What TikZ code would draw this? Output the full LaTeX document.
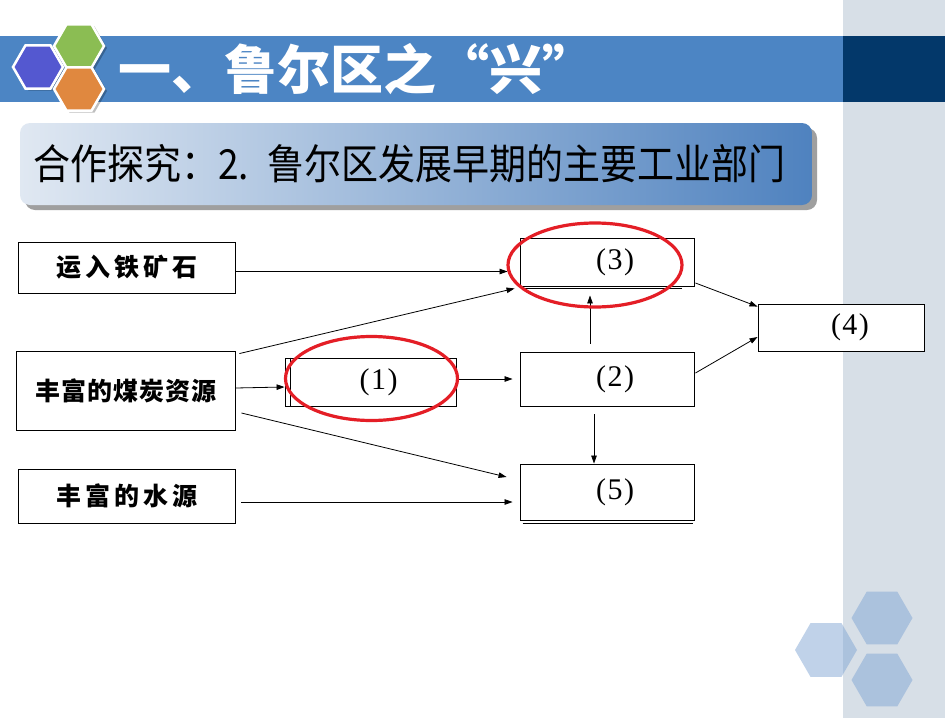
\documentclass[tikz,border=0pt]{standalone}
\usepackage{fontspec}
\usepackage{graphicx}
\setmainfont{Liberation Serif}
\newfontfamily\cjk{Noto Sans CJK SC}
\usetikzlibrary{arrows.meta}
\definecolor{stripgray}{RGB}{215,223,231}
\definecolor{titleblue}{RGB}{76,133,196}
\definecolor{navy}{RGB}{3,56,106}
\definecolor{hexblue}{RGB}{84,88,208}
\definecolor{hexgreen}{RGB}{139,189,83}
\definecolor{hexorange}{RGB}{224,136,63}
\definecolor{palehex}{RGB}{124,163,211}
\definecolor{subleft}{RGB}{224,232,242}
\definecolor{submid}{RGB}{176,198,226}
\definecolor{subright}{RGB}{79,130,191}
\definecolor{ringred}{RGB}{228,30,38}
\newcommand\hexshape[4]{\path[#4] (#1,#2) +(0:#3) -- +(60:#3) -- +(120:#3) -- +(180:#3) -- +(240:#3) -- +(300:#3) -- cycle;}
\tikzset{
  box/.style={draw, line width=0.9pt, fill=white, inner sep=0pt},
  cnlabel/.style={font=\cjk\bfseries\fontsize{25}{28}\selectfont},
  numlabel/.style={font=\fontsize{30}{32}\selectfont},
  arr/.style={line width=0.8pt, -{Triangle[length=8pt,width=5.5pt]}},
  ring/.style={draw=ringred, line width=3.2pt},
  subbox/.style={rounded corners=10pt, minimum width=792pt, minimum height=82pt,
    left color=subleft, middle color=submid, right color=subright,
    text width=766pt, inner xsep=13pt, align=left,
    font=\cjk\fontsize{37}{40}\selectfont},
}
\begin{document}
\begin{tikzpicture}[x=1pt,y=-1pt]
\useasboundingbox (0,0) rectangle (945,718);
\fill[white] (0,0) rectangle (945,718);
% right strip and title bar
\fill[stripgray] (843,0) rectangle (945,718);
\fill[titleblue] (0,36) rectangle (843,102);
\fill[navy] (843,36) rectangle (945,102);
% top-left hexagons
\hexshape{41}{69}{25}{fill=black, opacity=0.25}
\hexshape{82}{48}{25}{fill=black, opacity=0.25}
\hexshape{82}{91}{25}{fill=black, opacity=0.25}
\hexshape{38}{67}{25}{fill=hexblue, draw=white, line width=2.5pt}
\hexshape{79}{46}{25}{fill=hexgreen, draw=white, line width=2.5pt}
\hexshape{79}{89}{25}{fill=hexorange, draw=white, line width=2.5pt}
% title
\node[anchor=west, text=white, font=\cjk\bfseries\fontsize{53}{56}\selectfont, inner sep=0pt] (title) at (118,69) {一、鲁尔区之“兴”};
% subtitle box
\fill[gray!75, rounded corners=10pt] (25,128) rectangle (817,210);
\node[subbox] (sub) at (416,164) {\scalebox{1}[1.12]{合作探究：2. 鲁尔区发展早期的主要工业部门}};
% bottom-right hexagons
\hexshape{882}{618}{30.5}{fill=palehex, opacity=0.48}
\hexshape{882}{680}{30.5}{fill=palehex, opacity=0.48}
\hexshape{826}{650}{31}{fill=palehex, opacity=0.48}
% boxes
\node[box, minimum width=217pt, minimum height=51pt, cnlabel] (A) at (126.5,267.5) {运\hspace{4pt}入\hspace{4pt}铁\hspace{4pt}矿\hspace{4pt}石};
\node[box, minimum width=219pt, minimum height=79pt, cnlabel] (B) at (125.5,390.5) {丰\hspace{1pt}富\hspace{1pt}的\hspace{1pt}煤\hspace{1pt}炭\hspace{1pt}资\hspace{1pt}源};
\node[box, minimum width=217pt, minimum height=54pt, cnlabel] (C) at (126.5,496) {丰\hspace{4pt}富\hspace{4pt}的\hspace{4pt}水\hspace{4pt}源};
\node[box, minimum width=171pt, minimum height=48pt, numlabel] (P1) at (370.5,382) {\hspace*{16pt}(\kern1.5pt1\kern1.5pt)};
\node[box, minimum width=174pt, minimum height=48pt, numlabel] (P3) at (607,262) {\hspace*{16pt}(\kern1.5pt3\kern1.5pt)};
\node[box, minimum width=174pt, minimum height=54pt, numlabel] (P2) at (607,379) {\hspace*{16pt}(\kern1.5pt2\kern1.5pt)};
\node[box, minimum width=166pt, minimum height=47pt, numlabel] (P4) at (841,327.5) {\hspace*{18pt}(\kern1.5pt4\kern1.5pt)};
\node[box, minimum width=174pt, minimum height=56pt, numlabel] (P5) at (607,492) {\hspace*{16pt}(\kern1.5pt5\kern1.5pt)};
% extra box lines
\draw[line width=0.9pt] ([xshift=6pt]P1.north west) -- ([xshift=6pt]P1.south west);
\draw[line width=0.9pt] ([xshift=2pt,yshift=-1.8pt]P3.south west) -- ([xshift=-12pt,yshift=-1.8pt]P3.south east);
\draw[line width=0.9pt] ([xshift=3pt,yshift=-3pt]P5.south west) -- ([xshift=-1pt,yshift=-3pt]P5.south east);
% connectors
\draw[arr] ([yshift=-4pt]A.east) -- ([xshift=-12pt,yshift=-9.5pt]P3.west);
\draw[arr] ([xshift=4pt,yshift=-3pt]B.north east) -- ([xshift=-5pt,yshift=-2pt]P3.south west);
\draw[arr] ([yshift=2.5pt]B.east) -- ([yshift=-5pt]P1.west);
\draw[arr] ([xshift=6pt,yshift=-22.5pt]B.east) -- ([xshift=-13pt,yshift=15pt]P5.west);
\draw[arr] ([xshift=6pt,yshift=-6pt]C.east) -- ([xshift=-7pt,yshift=-10pt]P5.west);
\draw[arr] ([yshift=3pt]P1.east) -- ([xshift=-7pt]P2.west);
\draw[arr] ([xshift=-17pt,yshift=8pt]P2.north) -- ([xshift=-17pt,yshift=-9pt]P3.south);
\draw[arr] ([xshift=-13pt,yshift=-8pt]P2.south) -- ([xshift=-13pt]P5.north);
\draw[arr] ([xshift=1pt,yshift=6pt]P2.east) -- ([yshift=-9.5pt]P4.west);
\draw[arr] ([xshift=1pt,yshift=-21pt]P3.east) -- ([yshift=-3pt]P4.north west);
% red rings
\draw[ring] (371.5,378.5) ellipse [x radius=86pt, y radius=42pt];
\draw[ring] (595,265) ellipse [x radius=87pt, y radius=42pt];
\end{tikzpicture}
\end{document}
